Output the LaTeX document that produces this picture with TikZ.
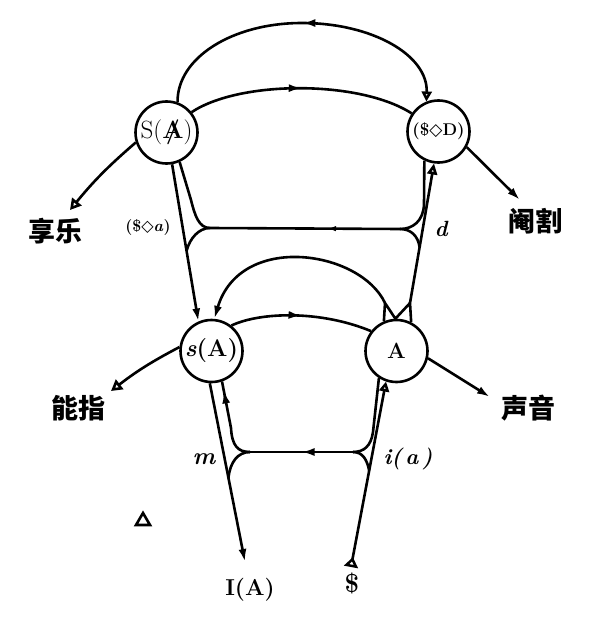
\documentclass[tikz,border=0pt]{standalone}
\usepackage{fontspec}
\newfontfamily\cjk{Noto Sans CJK SC}
\newfontfamily\sym{DejaVu Sans}
\usetikzlibrary{arrows.meta, calc, decorations.markings}
\newcommand{\barA}{\ooalign{A\cr\hidewidth/\hidewidth}}
\newcommand{\lozd}{{\sym\bfseries ◇}}

\begin{document}
\begin{tikzpicture}[x=1pt, y=1pt, line width=2.6pt,
  place/.style={draw, circle, minimum size=62pt, inner sep=0pt},
  zh/.style={font=\cjk\fontsize{27}{27}\selectfont\bfseries},
  lbl/.style={font=\fontsize{22}{22}\selectfont\bfseries\itshape},
  tip/.style={-{Latex[length=13pt,width=8pt]}},
  midarrow/.style={postaction={decorate, decoration={markings,
      mark=at position #1 with {\arrow{Latex[length=13pt,width=8pt]}}}}}
]
  \useasboundingbox (0,0) rectangle (600,-626);

  % Circles
  \node[place, font=\fontsize{25}{25}\selectfont] (SA) at (166.5,-132.5) {S(\textbf{\barA})};
  \node[place, font=\fontsize{17}{17}\selectfont\bfseries] (SD) at (438.5,-131.5) {(\$\lozd D)};
  \node[place, font=\fontsize{24}{24}\selectfont\bfseries] (sA) at (211.5,-351) {\textit{s}(A)};
  \node[place, font=\fontsize{22}{22}\selectfont\bfseries] (A) at (396.5,-351) {A};

  % Labels
  \node[zh] (jouis) at (55,-231) {享乐};
  \node[zh] (castr) at (535,-221) {阉割};
  \node[zh] (signif) at (78,-408) {能指};
  \node[zh] (voice) at (528,-408) {声音};
  \node[font=\fontsize{16}{16}\selectfont\bfseries] (Sa) at (148,-228) {(\$\lozd\textit{a})};
  \node[lbl] (dlbl) at (441,-229) {d};
  \node[lbl, font=\fontsize{24}{24}\selectfont\bfseries\itshape] (mlbl) at (204,-459) {m};
  \node[lbl] (ialbl) at (408,-459) {i(\,a\,)};
  \node[font=\fontsize{23}{23}\selectfont\bfseries] (IA) at (250,-590) {I(A)};
  \node[font=\fontsize{26}{26}\selectfont\bfseries] (subj) at (352,-583) {\$};

  % Free ends and junctions
  \coordinate (jl) at (70,-210);
  \coordinate (ct) at (520,-200);
  \coordinate (sg) at (111,-391);
  \coordinate (vc) at (490,-397);
  \coordinate (IAtip) at (245,-562);
  \coordinate (dtip) at (351,-567);
  \coordinate (vL) at (385,-303);
  \coordinate (vR) at (410,-303);
  \coordinate (jUL) at (210,-228);
  \coordinate (jUR) at (400,-229);
  \coordinate (jLL) at (250,-452);
  \coordinate (jLR) at (353,-452);
  \coordinate (mUL) at ($(SA.280)!0.55!(sA.114)$);
  \coordinate (mUR) at ($(vR)!0.4!(SD.262)$);
  \coordinate (mLL) at ($(sA.267)!0.53!(IAtip)$);
  \coordinate (mLR) at ($(dtip)!0.52!(A.251)$);

  % Upper arcs
  \draw[{Triangle[open,length=10pt,width=10pt]}-, midarrow=0.5] (SD.112) .. controls (428,-55) and (372,-23) .. (302,-23)
    .. controls (232,-23) and (177,-58) .. (SA.70);
  \draw[midarrow=0.5] (SA.39) .. controls (240,-80) and (360,-80) .. (SD.146);

  % Lower arcs
  \draw[tip] (vL) .. controls (360,-250) and (240,-232) .. (sA.85);
  \draw[midarrow=0.5] (sA.52) .. controls (260,-312) and (320,-310) .. (A.142);
  \draw[line join=round] (A.113) -- (vL) -- (A.92) -- (vR) -- (A.63);

  % Verticals
  \draw[tip] (SA.280) -- (sA.114);
  \draw[-{Triangle[open,length=11pt,width=10pt]}] (vR) -- (SD.262);
  \draw[tip] (sA.267) -- (IAtip);
  \draw[{Triangle[open,reversed,length=10pt,width=14pt]}-{Triangle[open,length=10pt,width=10pt]}] (dtip) -- (A.251);

  % Side lines
  \draw[{Triangle[open,length=11pt,width=12pt]}-] (jl) to[bend left=5] (SA.198);
  \draw[tip] (SD.331) -- (ct);
  \draw[{Triangle[open,length=11pt,width=12pt]}-] (sg) to[bend left=5] (sA.173);
  \draw[tip] (A.347) -- (vc);

  % Upper loop
  \draw (SA.294) -- (191,-200) .. controls (195,-216) and (199,-228) .. (jUL);
  \draw (jUL) .. controls (199,-228) and (190,-238) .. (mUL);
  \draw[postaction={decorate, decoration={markings,
      mark=at position 0.4 with {\arrow{Latex[length=12pt,width=5pt]}}}}] (jUR) -- (jUL);
  \draw (SD.244) -- (424,-205) .. controls (423,-221) and (413,-229) .. (jUR);
  \draw (jUR) .. controls (411,-229) and (418,-236) .. (mUR);

  % Lower loop
  \draw[midarrow=0.89] (jLL) .. controls (238,-452) and (232,-446) .. (231,-428) -- (sA.289);
  \draw (jLL) .. controls (238,-452) and (230,-462) .. (mLL);
  \draw[midarrow=0.5] (jLR) -- (jLL);
  \draw (A.237) -- (373,-432) .. controls (371,-446) and (364,-452) .. (jLR);
  \draw (jLR) .. controls (363,-452) and (367,-460) .. (mLR);

  % Lone mark
  \draw (136,-525) -- (150,-525) -- (143,-513) -- cycle;
\end{tikzpicture}
\end{document}
